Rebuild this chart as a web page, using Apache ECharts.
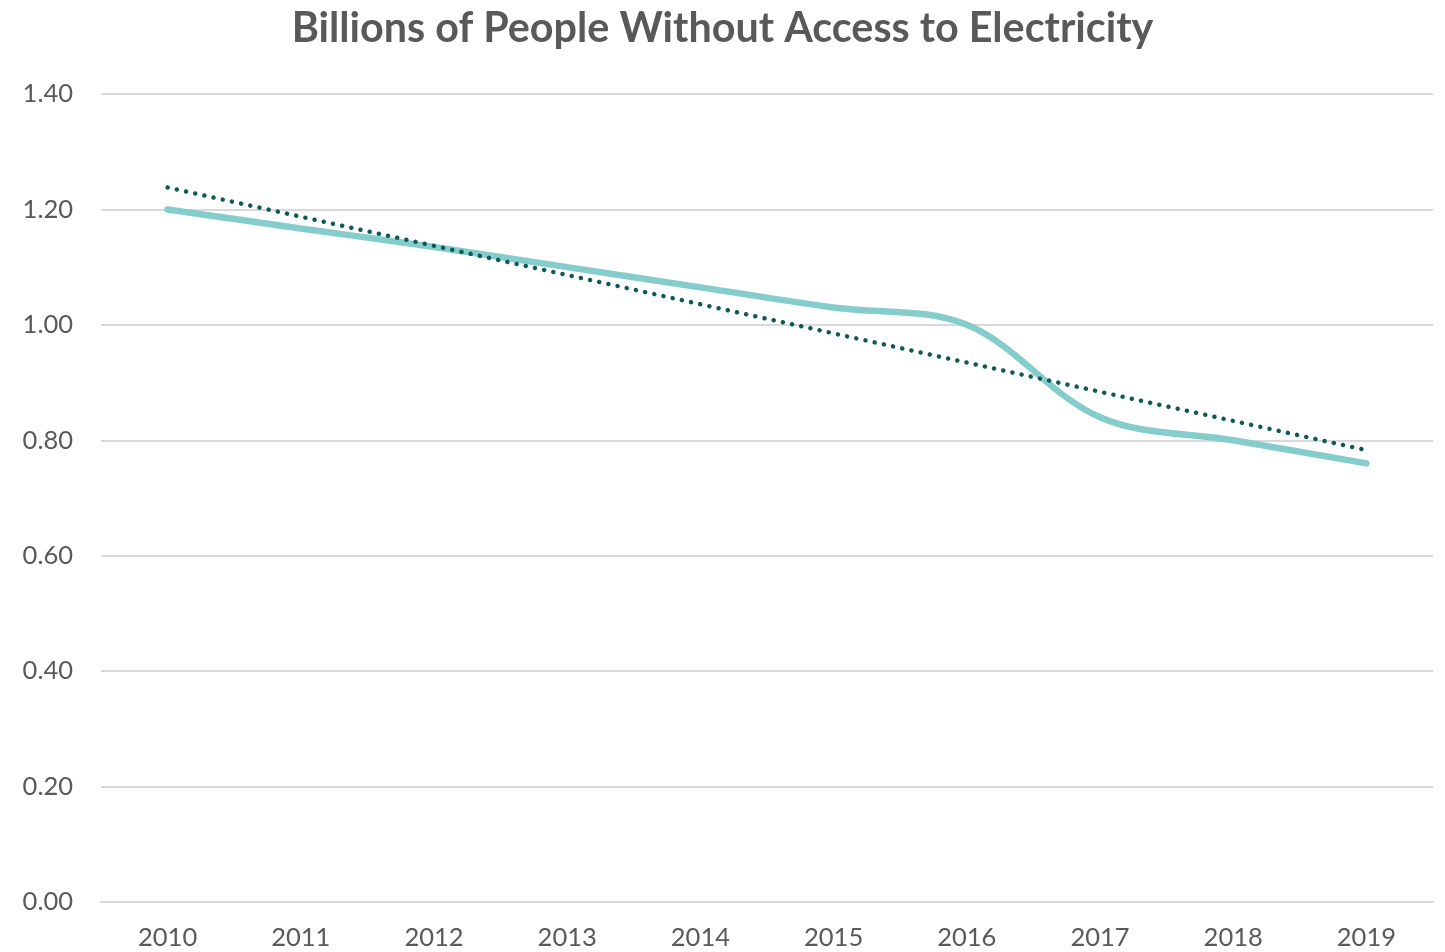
<!DOCTYPE html>
<html><head><meta charset="utf-8">
<script src="https://cdn.jsdelivr.net/npm/echarts@6/dist/echarts.min.js"></script>
<style>html,body{margin:0;padding:0;background:#fff}#c{width:1445px;height:952px}</style>
</head><body><div id="c"></div>
<script>
const years = ['2010','2011','2012','2013','2014','2015','2016','2017','2018','2019'];
const peopleWithoutAccess = [1.20, 1.167, 1.135, 1.10, 1.065, 1.03, 1.00, 0.84, 0.80, 0.76];
const trendIndex = [0, 9];
const trendValues = [1.238, 0.783];
const yTicks = { min: 0, max: 1.4, interval: 0.2 };

const chart = echarts.init(document.getElementById('c'));
const font = 'Lato, "Open Sans", sans-serif';
chart.setOption({
  animation: false,
  backgroundColor: '#fff',
  title: {
    text: 'Billions of People Without Access to Electricity',
    left: 'center', top: 3,
    textStyle: { fontFamily: font, fontSize: 41.3, fontWeight: 'bold', color: '#595959' }
  },
  grid: { left: 101, right: 12, top: 94, bottom: 50 },
  xAxis: {
    type: 'category', data: years, boundaryGap: true,
    axisLine: { show: true, lineStyle: { color: '#d9d9d9', width: 2 } },
    axisTick: { show: false },
    axisLabel: { fontFamily: font, fontSize: 25.5, color: '#595959', margin: 23 }
  },
  yAxis: {
    type: 'value', min: yTicks.min, max: yTicks.max, interval: yTicks.interval,
    axisLine: { show: false }, axisTick: { show: false },
    splitLine: { lineStyle: { color: '#d9d9d9', width: 2 } },
    axisLabel: { fontFamily: font, fontSize: 25.5, color: '#595959', margin: 28,
      formatter: v => v.toFixed(2) }
  },
  series: [
    {
      type: 'line', data: peopleWithoutAccess, smooth: 0.35, symbol: 'none',
      lineStyle: { color: '#84cdcc', width: 6.5, cap: 'round' }, z: 2
    },
    {
      type: 'line', data: trendIndex.map((x, i) => [x, trendValues[i]]), symbol: 'none',
      lineStyle: { color: '#0e5a57', width: 4.5, type: [0.1, 9.3], cap: 'round' }, z: 3
    }
  ]
});
</script></body></html>
